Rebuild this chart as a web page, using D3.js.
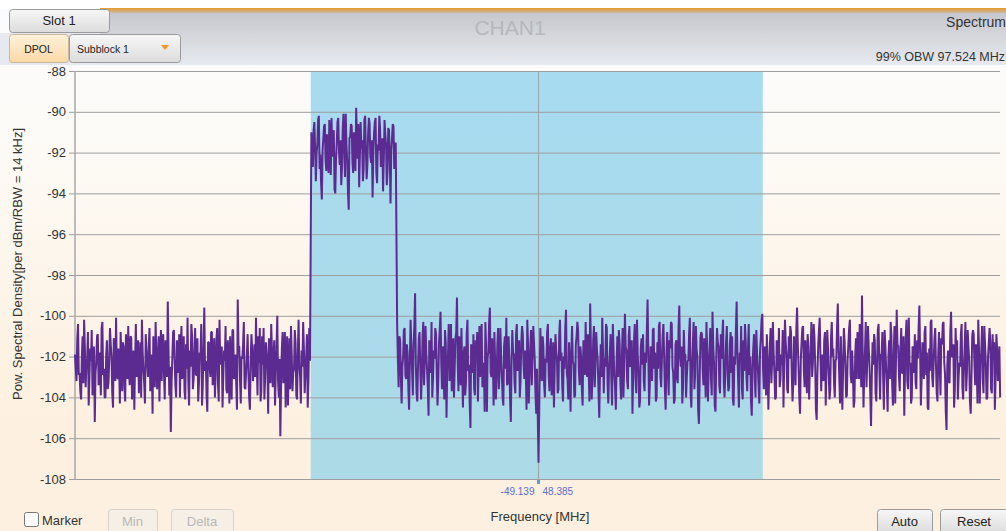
<!DOCTYPE html>
<html>
<head>
<meta charset="utf-8">
<script src="https://cdn.jsdelivr.net/npm/d3@7"></script>
<style>
  html, body { margin: 0; padding: 0; background: #fdf2e4; overflow: hidden; }
  svg { display: block; font-family: "Liberation Sans", Arial, sans-serif; }
</style>
</head>
<body>
<div id="chart"></div>
<script>
// axis ticks
const yTicks = [-88, -90, -92, -94, -96, -98, -100, -102, -104, -106, -108];

// occupied bandwidth markers (MHz)
const obwEdges = [-49.139, 48.385];
const obwLabel = "99% OBW 97.524 MHz";

// frequency span [start, end] of each trace piece (MHz)
const spanLeft = [-100, -49.3];
const spanSignal = [-49.0, -30.8];
const spanMid = [-30.5, 0];
const spanRight = [0.4, 99.6];

// power spectral density (dBm)
const noiseLeft = [
  -101.9,-102.6,-103.2,-101.1,-100.4,-102.9,-102.8,-103.7,-104.1,-102.0,
  -101.0,-103.3,-100.2,-101.6,-103.5,-102.4,-102.1,-100.8,-104.4,-103.0,
  -101.6,-102.2,-100.7,-103.9,-103.0,-101.5,-105.2,-102.8,-102.3,-101.0,
  -100.9,-103.4,-101.8,-102.5,-103.9,-100.6,-100.3,-102.9,-102.6,-104.0,
  -104.0,-101.9,-101.2,-103.6,-103.3,-102.2,-100.6,-101.4,-102.0,-103.8,
  -104.5,-101.1,-101.4,-103.2,-100.1,-102.7,-103.1,-101.6,-102.5,-104.3,
  -100.8,-102.0,-103.7,-101.3,-101.5,-103.5,-104.2,-100.9,-102.2,-103.1,
  -100.5,-102.8,-103.4,-101.0,-101.1,-104.1,-102.9,-101.7,-104.6,-102.3,
  -100.4,-103.0,-102.4,-101.2,-103.8,-102.6,-101.3,-104.0,-100.2,-101.8,
  -102.7,-103.3,-104.3,-100.9,-101.7,-102.4,-103.0,-101.5,-100.6,-103.7,
  -101.9,-102.3,-104.8,-101.0,-102.6,-103.5,-100.3,-101.9,-103.6,-102.1,
  -101.0,-104.2,-102.1,-100.7,-103.2,-101.4,-100.9,-102.8,-104.1,-101.2,
  -101.6,-103.0,-99.3,-101.7,-103.9,-102.5,-105.7,-103.3,-102.0,-100.8,
  -100.7,-102.2,-103.4,-104.0,-101.2,-102.4,-102.8,-100.9,-104.0,-101.6,
  -100.5,-103.1,-102.3,-101.0,-103.7,-104.1,-101.4,-102.6,-100.1,-103.2,
  -104.4,-101.7,-102.5,-100.4,-101.0,-103.6,-103.1,-101.8,-100.6,-102.9,
  -102.9,-101.1,-104.2,-103.3,-101.8,-102.0,-100.4,-104.4,-103.5,-101.6,
  -99.6,-102.7,-102.2,-103.9,-104.7,-101.3,-101.3,-102.5,-103.0,-100.8,
  -100.8,-103.4,-102.6,-101.1,-104.0,-102.8,-101.1,-100.6,-103.3,-104.2,
  -100.2,-102.4,-102.0,-101.5,-104.5,-103.0,-101.7,-102.2,-100.5,-103.6,
  -103.8,-101.2,-102.4,-104.3,-101.0,-102.9,-104.1,-100.7,-100.7,-103.1,
  -102.7,-101.9,-103.4,-104.6,-99.2,-101.5,-101.5,-103.2,-104.3,-102.0,
  -102.1,-101.4,-100.3,-103.5,-103.6,-102.7,-101.9,-100.9,-102.8,-104.0,
  -104.6,-102.2,-100.9,-101.6,-103.2,-102.5,-101.4,-103.0,-100.1,-102.3,
  -103.9,-101.0,-102.3,-100.6,-104.2,-103.7,-101.0,-102.4,-100.6,-104.1,
  -103.1,-101.3,-101.8,-102.6,-104.8,-101.1,-102.5,-103.3,-100.4,-101.7,
  -103.5,-102.0,-101.2,-104.4,-102.9,-101.5,-100.0,-103.2,-104.0,-102.1,
  -105.9,-103.4,-101.6,-100.8,-103.3,-102.2,-100.8,-104.5,-102.2,-101.0,
  -104.4,-102.7,-101.1,-103.6,-100.5,-101.9,-103.7,-102.8,-102.6,-100.7,
  -101.3,-103.9,-104.1,-101.8,-100.2,-102.4,-103.0,-104.3,-101.7,-102.5,
  -100.3,-101.6,-103.8,-102.9,-102.0,-100.9,-104.5,-103.1,-100.6,-102.2
];

const bandSignal = [
  -91.0,-92.1,-92.7,-90.9,-90.5,-91.8,-93.4,-92.0,-91.6,-90.4,-90.2,-92.8,
  -92.1,-93.5,-94.3,-91.9,-91.3,-90.7,-90.6,-92.4,-92.9,-91.1,-91.8,-93.0,
  -90.4,-91.5,-93.1,-90.3,-92.2,-91.7,-90.9,-93.8,-94.0,-92.3,-91.5,-90.5,
  -90.3,-92.0,-92.6,-91.4,-93.6,-92.7,-90.8,-90.1,-91.9,-93.2,-90.1,-91.6,
  -92.4,-93.9,-94.8,-91.3,-91.2,-90.6,-90.7,-92.5,-93.0,-91.0,-91.7,-92.9,
  -89.8,-91.2,-92.3,-90.6,-93.7,-92.1,-90.5,-91.8,-91.4,-93.4,-92.8,-90.4,
  -90.2,-91.9,-93.3,-92.6,-91.1,-90.3,-90.6,-92.2,-92.5,-91.4,-94.2,-92.0,
  -91.0,-90.5,-90.3,-93.0,-93.5,-91.6,-91.9,-90.2,-90.8,-92.7,-92.0,-91.3,
  -93.9,-92.4,-90.4,-91.1,-91.6,-93.6,-92.9,-90.8,-90.9,-92.3,-94.5,-91.9,
  -91.3,-90.6,-90.7,-92.8,-92.2,-91.5
];

const noiseMid = [
  -100.4,-102.1,-103.5,-101.0,-101.2,-103.0,-104.3,-102.5,-102.0,-100.7,
  -100.6,-102.9,-103.1,-101.4,-101.8,-103.6,-104.6,-102.2,-100.2,-101.5,
  -102.7,-103.9,-101.4,-100.5,-98.9,-102.4,-103.8,-104.2,-102.3,-101.1,
  -100.8,-102.6,-104.1,-103.0,-101.0,-100.3,-103.4,-102.1,-100.5,-101.9,
  -102.6,-103.5,-104.9,-101.2,-101.6,-102.8,-100.3,-104.0,-103.0,-101.7,
  -102.1,-100.6,-100.9,-102.9,-104.4,-103.2,-101.3,-100.7,-99.8,-102.3,
  -103.6,-101.5,-102.5,-104.1,-100.7,-101.3,-105.0,-102.6,-101.9,-100.4,
  -103.2,-102.0,-100.4,-103.7,-102.8,-101.1,-104.0,-102.5,-101.1,-100.8,
  -99.1,-102.4,-103.7,-101.0,-102.2,-103.4,-100.6,-102.9,-104.5,-101.8,
  -101.5,-103.9,-103.3,-100.9,-100.2,-102.7,-102.4,-104.3,-105.5,-101.4,
  -101.7,-102.8,-100.9,-103.6,-103.9,-101.2,-102.0,-100.8,-104.2,-102.5,
  -100.5,-103.0,-101.2,-100.4,-103.5,-102.3,-102.6,-104.7,-100.3,-101.6,
  -104.7,-102.0,-101.8,-100.3,-99.6,-102.8,-103.0,-101.1,-102.3,-104.4,
  -100.8,-102.2,-104.1,-103.1,-101.4,-100.6,-103.6,-102.7,-100.6,-101.9,
  -102.9,-104.0,-104.4,-101.5,-101.0,-102.6,-100.1,-103.4,-103.3,-101.0,
  -102.1,-104.1,-105.2,-102.3,-100.7,-101.8,-101.9,-103.3,-103.8,-100.9,
  -100.4,-102.7,-102.5,-101.2,-104.0,-103.2,-101.3,-100.5,-100.9,-102.4,
  -103.1,-101.7,-102.7,-104.6,-100.2,-101.4,-104.3,-102.9,-101.6,-100.7,
  -103.4,-102.0,-100.5,-101.3,-102.2,-103.9,-104.8,-102.6,-104.9,-107.2
];

const noiseRight = [
  -100.6,-102.4,-103.2,-101.0,-101.5,-103.4,-104.0,-102.1,-102.3,-100.8,
  -100.4,-102.9,-103.7,-101.6,-101.1,-103.9,-102.8,-101.3,-104.5,-102.6,
  -100.9,-101.7,-102.1,-103.8,-103.6,-100.9,-100.2,-102.2,-101.8,-103.5,
  -104.2,-102.0,-102.6,-100.6,-99.7,-102.8,-103.1,-104.1,-101.3,-102.5,
  -104.7,-101.9,-100.5,-102.2,-102.4,-104.0,-103.9,-101.4,-101.0,-100.3,
  -100.7,-102.7,-103.4,-101.5,-102.0,-103.6,-104.4,-101.2,-101.6,-102.9,
  -100.3,-102.3,-103.0,-100.9,-102.7,-104.2,-99.4,-101.6,-104.1,-103.1,
  -101.2,-100.5,-103.5,-102.4,-100.8,-101.7,-102.2,-103.7,-105.0,-102.8,
  -101.4,-103.0,-100.1,-101.8,-103.8,-102.1,-102.5,-100.4,-100.6,-103.3,
  -104.3,-102.6,-101.9,-100.9,-103.1,-104.4,-100.4,-101.7,-102.9,-103.6,
  -104.6,-102.3,-101.0,-103.0,-100.7,-101.4,-103.3,-104.1,-102.0,-100.6,
  -104.0,-102.6,-99.9,-101.5,-101.7,-103.2,-103.6,-101.0,-100.5,-102.5,
  -102.4,-101.2,-104.8,-102.9,-101.3,-100.4,-103.0,-103.8,-100.2,-102.0,
  -102.7,-104.5,-104.2,-101.6,-101.1,-102.4,-100.9,-103.2,-103.7,-101.8,
  -102.3,-100.8,-99.2,-101.9,-104.4,-103.4,-101.5,-102.2,-103.2,-100.7,
  -100.6,-102.6,-101.8,-104.2,-104.0,-101.3,-102.6,-100.5,-100.3,-103.0,
  -103.5,-102.1,-101.0,-100.4,-102.1,-103.7,-104.6,-101.9,-100.8,-102.7,
  -103.9,-101.2,-101.6,-100.3,-100.4,-102.5,-102.8,-104.3,-104.1,-101.4,
  -101.2,-103.1,-103.3,-100.6,-99.5,-102.0,-102.5,-101.5,-104.3,-103.5,
  -100.7,-101.9,-101.9,-104.0,-103.0,-102.2,-102.2,-100.9,-100.1,-103.8,
  -104.5,-102.4,-101.4,-100.3,-103.6,-102.9,-100.5,-101.7,-102.0,-104.6,
  -105.3,-103.2,-101.1,-100.8,-100.9,-102.6,-103.4,-101.1,-102.6,-104.0,
  -100.3,-101.8,-104.2,-102.5,-101.7,-100.6,-103.1,-103.9,-99.8,-101.5,
  -102.3,-104.4,-104.7,-102.1,-100.6,-101.3,-101.5,-103.4,-103.8,-100.9,
  -102.1,-101.0,-100.2,-103.3,-104.0,-102.6,-101.3,-100.5,-102.9,-103.7,
  -103.5,-101.4,-100.8,-102.8,-101.0,-104.1,-104.4,-102.0,-102.4,-100.7,
  -99.3,-101.9,-103.2,-104.5,-101.8,-102.3,-100.5,-103.6,-104.1,-101.2,
  -102.7,-100.4,-101.2,-103.0,-103.7,-101.6,-100.4,-102.9,-102.0,-104.2,
  -104.9,-102.5,-101.6,-100.9,-103.0,-104.0,-100.7,-101.8,-102.5,-103.4,
  -104.3,-101.7,-101.1,-100.2,-99.9,-102.6,-103.6,-101.5,-102.2,-103.9,
  -100.9,-102.3,-104.6,-103.0,-101.4,-100.6,-103.3,-102.2,-100.3,-101.8,
  -102.8,-104.1,-104.0,-101.2,-101.7,-102.7,-100.6,-103.5,-103.1,-101.9,
  -102.4,-100.7,-104.5,-102.4,-100.2,-101.3,-101.9,-103.6,-103.8,-101.0,
  -102.1,-100.5,-100.8,-102.9,-104.2,-103.3,-101.0,-102.0,-103.4,-100.8,
  -99.6,-101.4,-102.6,-104.0,-104.8,-102.1,-101.3,-100.6,-100.5,-102.7,
  -103.5,-101.2,-102.0,-103.8,-100.9,-101.5,-104.1,-102.4,-101.8,-100.3,
  -103.0,-102.3,-100.4,-101.0,-102.3,-104.6,-105.1,-102.8,-101.5,-100.7,
  -100.1,-102.1,-103.7,-101.9,-102.7,-103.2,-101.2,-100.8,-104.4,-102.5,
  -100.7,-101.6,-102.9,-104.1,-103.6,-101.1,-100.3,-102.0,-101.6,-103.3,
  -104.0,-102.2,-102.1,-100.5,-99.4,-101.7,-103.2,-104.3,-101.0,-102.8,
  -104.6,-102.6,-100.6,-101.3,-102.4,-104.0,-103.9,-102.1,-101.4,-100.6,
  -100.2,-102.9,-103.3,-101.7,-102.8,-104.5,-104.2,-102.0,-101.1,-103.1,
  -100.8,-101.5,-103.1,-100.4,-102.0,-103.5,-99.0,-101.8,-104.5,-102.9,
  -101.7,-100.3,-103.5,-102.2,-100.5,-101.6,-102.5,-103.9,-105.4,-103.0,
  -101.3,-102.4,-100.9,-101.2,-103.8,-104.2,-102.2,-100.7,-100.4,-102.6,
  -104.1,-101.9,-101.9,-100.8,-103.0,-104.6,-100.7,-101.5,-102.6,-103.5,
  -104.7,-102.0,-101.2,-103.1,-100.3,-101.0,-103.4,-104.4,-102.0,-100.5,
  -104.3,-102.3,-99.7,-101.4,-101.5,-103.0,-103.7,-101.6,-100.6,-102.8,
  -102.8,-101.0,-104.9,-102.7,-101.0,-100.2,-103.2,-103.6,-100.1,-102.4,
  -102.3,-104.3,-104.0,-101.5,-101.6,-102.8,-100.9,-103.3,-103.6,-101.2,
  -102.1,-100.6,-99.5,-101.8,-104.4,-103.1,-101.3,-102.5,-103.1,-100.8,
  -100.5,-102.9,-101.8,-104.5,-104.6,-101.6,-102.7,-100.3,-100.2,-103.0,
  -103.5,-102.2,-101.1,-100.6,-102.4,-103.8,-104.2,-101.9,-100.8,-102.5,
  -103.9,-101.1,-101.4,-100.4,-100.3,-102.3,-102.9,-104.7,-105.6,-102.4,
  -101.7,-103.2,-103.3,-100.8,-99.8,-102.0,-102.0,-101.4,-104.5,-103.6,
  -100.6,-101.8,-101.2,-104.1,-103.0,-102.3,-102.5,-100.9,-100.4,-103.5,
  -104.1,-102.6,-101.5,-100.3,-103.7,-102.8,-100.7,-101.5,-102.2,-104.2,
  -104.8,-103.1,-101.0,-100.7,-100.9,-102.5,-103.4,-101.4,-102.6,-104.3,
  -100.2,-101.6,-104.3,-102.2,-101.8,-100.5,-103.1,-103.8,-100.5,-101.4,
  -102.3,-104.1,-104.0,-102.0,-101.3,-100.6,-101.3,-103.6,-103.8,-100.9,
  -102.1,-101.3,-104.6,-103.0,-100.9,-101.6,-103.2,-102.7,-101.5,-104.0
];

const W = 1006, H = 531;
const plot = { left: 75, right: 1002, top: 71, bottom: 479 };
const fmt = v => String(v);

const svg = d3.select('#chart').append('svg')
  .attr('width', W).attr('height', H);

const defs = svg.append('defs');
function vgrad(id, stops) {
  const g = defs.append('linearGradient').attr('id', id)
    .attr('x1', 0).attr('y1', 0).attr('x2', 0).attr('y2', 1);
  stops.forEach(([o, c]) => g.append('stop').attr('offset', o).attr('stop-color', c));
}
vgrad('bg', [['0%', '#fbfcfe'], ['30%', '#fdfaf5'], ['70%', '#fdf1e2'], ['100%', '#fdf0e0']]);
vgrad('head', [['0%', '#c4c5cb'], ['100%', '#e6e9ef']]);
vgrad('orange', [['0%', '#e9982c'], ['100%', '#c8b9a5']]);
vgrad('btn', [['0%', '#f7f7f7'], ['100%', '#dcdcdc']]);
vgrad('dpol', [['0%', '#fff1db'], ['100%', '#fbd9a6']]);
vgrad('band', [['0%', '#a7dbf0'], ['100%', '#acdae6']]);

// page background
svg.append('rect').attr('width', W).attr('height', H).attr('fill', 'url(#bg)');
svg.append('rect').attr('x', 0).attr('y', 0).attr('width', W).attr('height', 9).attr('fill', '#ffffff');
svg.append('rect').attr('x', 100).attr('y', 9).attr('width', W - 100).attr('height', 56).attr('fill', 'url(#head)');
svg.append('rect').attr('x', 0).attr('y', 33).attr('width', 100).attr('height', 32).attr('fill', '#e6e9ef');
svg.append('rect').attr('x', 100).attr('y', 8).attr('width', W - 100).attr('height', 5).attr('fill', 'url(#orange)');

// header texts
svg.append('text').attr('x', 510).attr('y', 35).attr('text-anchor', 'middle')
  .attr('font-size', 21).attr('fill', '#b6b7bd').text('CHAN1');
svg.append('text').attr('x', 1006).attr('y', 27).attr('text-anchor', 'end')
  .attr('font-size', 14).attr('fill', '#333').text('Spectrum');
svg.append('text').attr('x', 1005).attr('y', 61).attr('text-anchor', 'end')
  .attr('font-size', 12.5).attr('fill', '#333').text(obwLabel);

// buttons
function button(x, y, w, h, label, opts = {}) {
  const g = svg.append('g');
  g.append('rect').attr('x', x + 0.5).attr('y', y + 0.5).attr('width', w).attr('height', h)
    .attr('rx', 3).attr('fill', opts.fill || 'url(#btn)')
    .attr('stroke', opts.stroke || '#9a9a9a');
  g.append('text').attr('x', opts.tx != null ? opts.tx : x + w / 2).attr('y', y + h / 2 + 4.5)
    .attr('text-anchor', opts.tx != null ? 'start' : 'middle')
    .attr('font-size', opts.size || 13).attr('fill', opts.color || '#222').text(label);
  return g;
}
button(9, 9, 100, 23, 'Slot 1', { size: 13 });
button(9, 34, 59, 28, 'DPOL', { fill: 'url(#dpol)', size: 10.5, stroke: '#c9b89e' });
const sub = button(69, 34, 111, 28, 'Subblock 1', { size: 10.5, tx: 77 });
sub.append('path').attr('d', 'M161,45 L169,45 L165,50 Z').attr('fill', '#f0962b');

// scales
const x = d3.scaleLinear().domain([-100, 100]).range([plot.left, plot.right]);
const y = d3.scaleLinear().domain([-108, -88]).range([plot.bottom, plot.top]);

// occupied band
svg.append('rect')
  .attr('x', x(obwEdges[0])).attr('y', plot.top)
  .attr('width', x(obwEdges[1]) - x(obwEdges[0]))
  .attr('height', plot.bottom - plot.top)
  .attr('fill', 'url(#band)');

// grid + y axis
const yAxis = d3.axisLeft(y).tickValues(yTicks).tickSize(-(1000 - plot.left)).tickPadding(9)
  .tickFormat(fmt);
const gy = svg.append('g').attr('transform', `translate(${plot.left},0)`).call(yAxis);
gy.select('.domain').remove();
gy.selectAll('.tick line').attr('stroke', '#9e9e9e').attr('x1', -6);
gy.selectAll('.tick text').attr('fill', '#333').attr('font-size', 13)
  .attr('font-family', '"Liberation Sans", Arial, sans-serif');
svg.append('line').attr('x1', plot.left).attr('x2', plot.left)
  .attr('y1', plot.top).attr('y2', plot.bottom).attr('stroke', '#a8a8a8').attr('stroke-width', 1.5);
svg.append('line').attr('x1', x(0)).attr('x2', x(0))
  .attr('y1', plot.top).attr('y2', plot.bottom).attr('stroke', '#9aa3a8');

// trace
function piece(span, vals) {
  return vals.map((v, i) => ({
    f: span[0] + (span[1] - span[0]) * i / (vals.length - 1), v
  }));
}
const trace = [].concat(
  piece(spanLeft, noiseLeft),
  piece(spanSignal, bandSignal),
  piece(spanMid, noiseMid),
  piece(spanRight, noiseRight)
);
const line = d3.line().x(d => x(d.f)).y(d => y(d.v));
svg.append('path').datum(trace).attr('d', line)
  .attr('fill', 'none').attr('stroke', '#5b2b92').attr('stroke-width', 2)
  .attr('stroke-linejoin', 'bevel');

// marker readout
svg.append('rect').attr('x', x(0) - 1.5).attr('y', plot.bottom + 1).attr('width', 3).attr('height', 4)
  .attr('fill', '#4aa3df');
svg.append('text').attr('x', x(0) - 4).attr('y', 495).attr('text-anchor', 'end')
  .attr('font-size', 10).attr('fill', '#5a6fcf').text(obwEdges[0].toFixed(3));
svg.append('text').attr('x', x(0) + 4).attr('y', 495).attr('text-anchor', 'start')
  .attr('font-size', 10).attr('fill', '#5a6fcf').text(obwEdges[1].toFixed(3));

// axis labels
svg.append('text').attr('x', 540).attr('y', 521).attr('text-anchor', 'middle')
  .attr('font-size', 13).attr('fill', '#333').text('Frequency [MHz]');
svg.append('text').attr('transform', 'translate(22,264) rotate(-90)').attr('text-anchor', 'middle')
  .attr('font-size', 13).attr('fill', '#333').text('Pow. Spectral Density[per dBm/RBW = 14 kHz]');

// bottom controls
svg.append('rect').attr('x', 24.5).attr('y', 512.5).attr('width', 14).attr('height', 14).attr('rx', 2)
  .attr('fill', '#fff').attr('stroke', '#777');
svg.append('text').attr('x', 42).attr('y', 525).attr('font-size', 13).attr('fill', '#333').text('Marker');
button(108, 509, 49, 24, 'Min', { color: '#b8b8b8', stroke: '#d8d2ca', fill: '#f6efe6' });
button(171, 509, 62, 24, 'Delta', { color: '#b8b8b8', stroke: '#d8d2ca', fill: '#f6efe6' });
button(877, 509, 55, 24, 'Auto');
button(940, 509, 68, 24, 'Reset');
</script>
</body>
</html>
